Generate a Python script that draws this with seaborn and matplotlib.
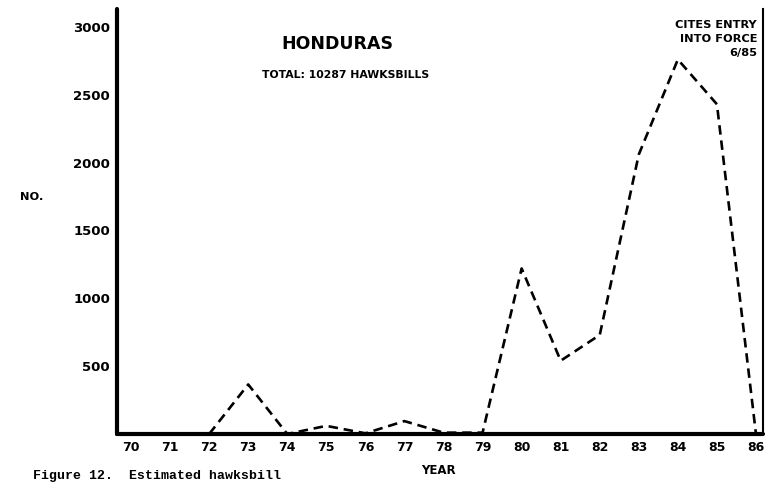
#!/usr/bin/env python3
import matplotlib
matplotlib.use("Agg")
import matplotlib.pyplot as plt
import pandas as pd
import seaborn as sns

# hawksbill exports (total stated: 10287)
years = [72, 73, 74, 75, 76, 77, 78, 79, 80, 81, 82, 83, 84, 85, 86]
hawksbills = [0, 365, 0, 60, 5, 95, 10, 10, 1220, 540, 730, 2060, 2760, 2430, 0]

year_ticks = list(range(70, 87))
count_ticks = [500, 1000, 1500, 2000, 2500, 3000]

title = "HONDURAS"
subtitle = "TOTAL: 10287 HAWKSBILLS"
cites_note = "CITES ENTRY\nINTO FORCE\n6/85"
caption = "Figure 12.  Estimated hawksbill"


def main() -> None:
    sns.set_style("white", {"text.color": "black", "xtick.color": "black",
                            "ytick.color": "black", "axes.labelcolor": "black"})
    plt.rcParams["font.family"] = ["DejaVu Sans"]

    df = pd.DataFrame({"year": years, "count": hawksbills})

    W, H = 779, 483
    fig = plt.figure(figsize=(W / 100, H / 100), dpi=100)
    left, right, top, base = 117, 763, 9, 434
    ax = fig.add_axes([left / W, (H - base) / H, (right - left) / W, (base - top) / H])

    sns.lineplot(
        data=df, x="year", y="count", ax=ax,
        color="black", linewidth=1.9, dashes=False,
    )
    ax.lines[0].set_dashes((3.6, 2.2))

    ax.set_xlim(69.64, 86.18)
    ax.set_ylim(0, 3132)
    ax.set_xticks(year_ticks)
    ax.set_xticklabels([str(y) for y in year_ticks], fontsize=9, fontweight="bold")
    ax.set_yticks(count_ticks)
    ax.set_yticklabels([str(c) for c in count_ticks], fontsize=9.5, fontweight="bold")
    ax.tick_params(axis="both", length=0, labelcolor="black")
    ax.tick_params(axis="x", pad=5)
    ax.tick_params(axis="y", pad=5)
    ax.set_xlabel("")
    ax.set_ylabel("")

    ax.spines["top"].set_visible(False)
    for side in ("left", "bottom"):
        ax.spines[side].set_linewidth(3.0)
        ax.spines[side].set_color("black")
        ax.spines[side].set_capstyle("round")
    ax.spines["right"].set_linewidth(1.5)
    ax.spines["right"].set_color("black")

    def fx(px):
        return px / W

    def fy(py):
        return 1 - py / H

    fig.text(fx(337), fy(44), title, fontsize=12.5, fontweight="bold",
             ha="center", va="center", color="black")
    fig.text(fx(346), fy(75), subtitle, fontsize=7.8, fontweight="bold",
             ha="center", va="center", color="black")
    fig.text(fx(757), fy(39), cites_note, fontsize=8.2, fontweight="bold",
             ha="right", va="center", linespacing=1.45, color="black")
    fig.text(fx(32), fy(197), "NO.", fontsize=8.2, fontweight="bold",
             ha="center", va="center", color="black")
    fig.text(fx(438), fy(470), "YEAR", fontsize=8.5, fontweight="bold",
             ha="center", va="center", color="black")
    # page caption sitting at the very bottom edge, as in the scan
    fig.text(fx(33), fy(482), caption, fontsize=9.5, fontweight="bold",
             family="Liberation Mono", ha="left", va="bottom", color="black")

    fig.savefig("out.png", dpi=100)
    plt.close(fig)


if __name__ == "__main__":
    main()
